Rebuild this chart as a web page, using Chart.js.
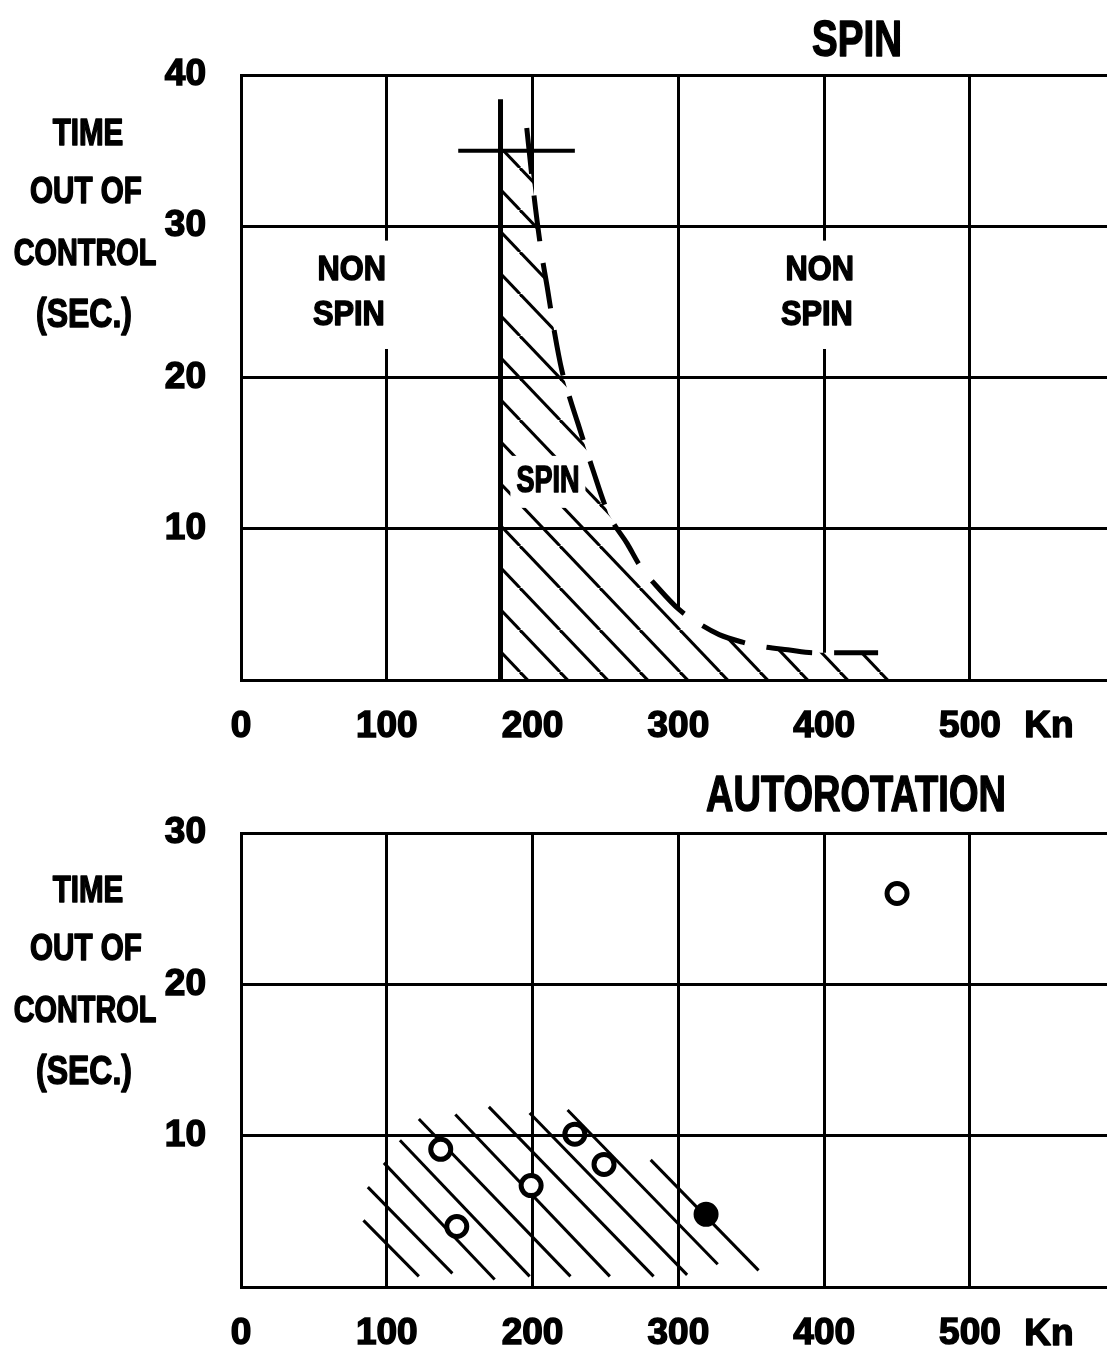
<!DOCTYPE html>
<html>
<head>
<meta charset="utf-8">
<title>Spin and autorotation</title>
<script src="https://cdn.jsdelivr.net/npm/chart.js@4.4.0/dist/chart.umd.min.js"></script>
<style>
  html, body { margin: 0; padding: 0; background: #fff; }
  canvas { position: absolute; left: 0; }
  #spin { top: 0; }
  #auto { top: 758px; }
</style>
</head>
<body>
<canvas id="spin" width="1107" height="758"></canvas>
<canvas id="auto" width="1107" height="591"></canvas>
<script>
// speed axis (knots), shared by both panels
const speedTicks = [0, 100, 200, 300, 400, 500];
const spinTimeTicks = [10, 20, 30, 40];
const autoTimeTicks = [10, 20, 30];

// SPIN panel
const spinLimitX = [178, 178];
const spinLimitY = [0, 38.4];
const spinBarX = [149, 229];
const spinBarY = [35, 35];
const spinCurveX = [196, 201, 206, 210, 215, 220, 226, 231, 241, 252, 265, 274, 287, 300, 313, 328, 344, 358, 375, 394, 405, 437];
const spinCurveY = [36.5, 32.0, 28.3, 26.0, 23.0, 20.5, 18.5, 17.0, 14.0, 11.0, 9.0, 7.5, 6.0, 4.7, 3.8, 3.0, 2.5, 2.2, 2.0, 1.8, 1.8, 1.8];
const spinAreaX = [178, 178, 197, 201, 206, 210, 215, 220, 226, 231, 241, 252, 265, 274, 287, 300, 313, 328, 344, 358, 375, 394, 405, 437, 445];
const spinAreaY = [0, 35, 35, 32.0, 28.3, 26.0, 23.0, 20.5, 18.5, 17.0, 14.0, 11.0, 9.0, 7.5, 6.0, 4.7, 3.8, 3.0, 2.5, 2.2, 2.0, 1.8, 1.8, 1.8, 0];

// AUTOROTATION panel
const autoSpeed = [137, 148, 199, 229, 249, 319, 450];
const autoTime = [9.1, 4.0, 6.7, 10.1, 8.1, 4.8, 26.0];
const bandFromX = [84, 87, 98, 109, 122, 147, 170, 198, 224, 281];
const bandFromY = [4.4, 6.6, 8.2, 9.7, 11.1, 11.4, 11.9, 11.5, 11.7, 8.4];
const bandToX = [122, 145, 174, 198, 226, 253, 283, 306, 327, 355];
const bandToY = [0.7, 0.9, 0.5, 0.7, 0.7, 0.7, 0.7, 0.8, 1.5, 1.1];

const FAMILY = "'Liberation Sans', Arial, sans-serif";
const tickFont = { family: FAMILY, size: 37, weight: 'bold' };

const pts = (xs, ys) => xs.map((x, i) => ({ x: x, y: ys[i] }));

function hatch() {
  const c = document.createElement('canvas');
  c.width = 40; c.height = 42;
  const g = c.getContext('2d');
  g.fillStyle = '#fff';
  g.fillRect(0, 0, 40, 42);
  g.strokeStyle = '#000';
  g.lineWidth = 3;
  for (const k of [-40, 0, 40]) {
    g.beginPath(); g.moveTo(k, 0); g.lineTo(k + 40, 42); g.stroke();
  }
  return g.createPattern(c, 'repeat');
}

// condensed, heavy lettering: squeeze horizontally around the anchor
function letter(ctx, t, x, y, size, sx) {
  ctx.save();
  ctx.font = 'bold ' + size + 'px ' + FAMILY;
  ctx.translate(x, y);
  ctx.scale(sx, 1);
  ctx.lineWidth = 1.5;
  ctx.strokeStyle = '#000';
  ctx.lineJoin = 'round';
  ctx.strokeText(t, 0, 0);
  ctx.fillText(t, 0, 0);
  ctx.restore();
}

const notes = {
  id: 'notes',
  afterDatasetsDraw(chart, args, opts) {
    const ctx = chart.ctx;
    const sx = chart.scales.x, sy = chart.scales.y;
    const place = n => n.data
      ? [sx.getPixelForValue(n.x), sy.getPixelForValue(n.y)]
      : [n.x, n.y];
    ctx.save();
    ctx.textAlign = 'center';
    ctx.textBaseline = 'middle';
    for (const n of opts.items) {
      if (!n.pad) continue;
      const [x, y] = place(n);
      ctx.font = 'bold ' + n.size + 'px ' + FAMILY;
      const w = ctx.measureText(n.text).width * n.sx;
      ctx.fillStyle = '#fff';
      ctx.fillRect(x - w / 2 - n.pad[0], y - n.size / 2 - n.pad[1], w + 2 * n.pad[0], n.size + 2 * n.pad[1]);
    }
    ctx.fillStyle = '#000';
    for (const n of opts.items) {
      const [x, y] = place(n);
      letter(ctx, n.text, x, y, n.size, n.sx);
    }
    ctx.restore();
  }
};

const yTitle = [
  { text: 'TIME', x: 88, y: 135, size: 37, sx: 0.8 },
  { text: 'OUT OF', x: 86, y: 193, size: 37, sx: 0.8 },
  { text: 'CONTROL', x: 85, y: 255, size: 37, sx: 0.78 },
  { text: '(SEC.)', x: 84, y: 316, size: 40, sx: 0.8 }
];

function speedAxis(h) {
  return {
    type: 'linear', min: 0, max: 594,
    afterBuildTicks: s => { s.ticks = speedTicks.map(v => ({ value: v })); },
    afterFit: s => { s.height = h; },
    grid: { color: '#000', lineWidth: 3, drawTicks: false, z: -1 },
    border: { color: '#000', width: 3, z: 1 },
    ticks: { color: '#000', font: tickFont, padding: 25, maxRotation: 0, autoSkip: false,
             textStrokeColor: '#000', textStrokeWidth: 1.5 }
  };
}

function timeAxis(max, ticks) {
  return {
    type: 'linear', min: 0, max: max,
    afterBuildTicks: s => { s.ticks = ticks.map(v => ({ value: v })); },
    afterFit: s => { s.width = 241; },
    grid: { color: '#000', lineWidth: 3, drawTicks: false, z: 1 },
    border: { color: '#000', width: 3, z: 1 },
    ticks: { color: '#000', font: tickFont, padding: 35, autoSkip: false,
             textStrokeColor: '#000', textStrokeWidth: 1.5 }
  };
}

const base = {
  responsive: false,
  devicePixelRatio: 1,
  animation: false,
  layout: { autoPadding: false, padding: { top: 75, left: 0, right: 0, bottom: 0 } },
  elements: { point: { radius: 0 }, line: { tension: 0 } }
};

new Chart(document.getElementById('spin'), {
  type: 'line',
  plugins: [notes],
  data: {
    datasets: [
      { data: pts(spinLimitX, spinLimitY), borderColor: '#000', borderWidth: 5, order: 0 },
      { data: pts(spinBarX, spinBarY), borderColor: '#000', borderWidth: 4, order: 0 },
      { data: pts(spinCurveX, spinCurveY), borderColor: '#000', borderWidth: 5,
        borderDash: [46, 22], cubicInterpolationMode: 'monotone', order: 1 },
      { data: pts(spinAreaX, spinAreaY), borderWidth: 0, borderColor: 'rgba(0,0,0,0)',
        backgroundColor: hatch(), fill: 'origin', order: 2 }
    ]
  },
  options: Object.assign({}, base, {
    scales: {
      x: speedAxis(78),
      y: timeAxis(40, spinTimeTicks)
    },
    plugins: {
      legend: { display: false },
      tooltip: { enabled: false },
      notes: {
        items: [
          { text: 'NON', data: true, x: 76, y: 27.1, size: 35, sx: 0.88, pad: [6, 12] },
          { text: 'SPIN', data: true, x: 74, y: 24.1, size: 35, sx: 0.88, pad: [6, 16] },
          { text: 'NON', data: true, x: 397, y: 27.1, size: 35, sx: 0.88, pad: [6, 12] },
          { text: 'SPIN', data: true, x: 395, y: 24.1, size: 35, sx: 0.88, pad: [6, 16] },
          { text: 'SPIN', data: true, x: 210.5, y: 13.1, size: 36, sx: 0.75, pad: [6, 8] },
          { text: 'Kn', x: 1049, y: 727, size: 37, sx: 1 },
          { text: 'SPIN', x: 857, y: 42, size: 50, sx: 0.77 }
        ].concat(yTitle)
      }
    }
  })
});

new Chart(document.getElementById('auto'), {
  type: 'line',
  plugins: [notes],
  data: {
    datasets: [
      { data: pts(autoSpeed, autoTime), showLine: false, pointRadius: 10, pointBorderWidth: 5,
        pointBorderColor: '#000', pointBackgroundColor: c => c.dataIndex === 5 ? '#000' : '#fff', order: 0 }
    ].concat(bandFromX.map((x, i) => ({
      data: pts([x, bandToX[i]], [bandFromY[i], bandToY[i]]),
      borderColor: '#000', borderWidth: 3, order: 1
    })))
  },
  options: Object.assign({}, base, {
    scales: {
      x: speedAxis(62),
      y: timeAxis(30, autoTimeTicks)
    },
    plugins: {
      legend: { display: false },
      tooltip: { enabled: false },
      notes: {
        items: [
          { text: 'Kn', x: 1049, y: 577, size: 37, sx: 1 },
          { text: 'AUTOROTATION', x: 856, y: 39, size: 50, sx: 0.76 }
        ].concat(yTitle.map(t => Object.assign({}, t, { y: t.y - 1 })))
      }
    }
  })
});
</script>
</body>
</html>
